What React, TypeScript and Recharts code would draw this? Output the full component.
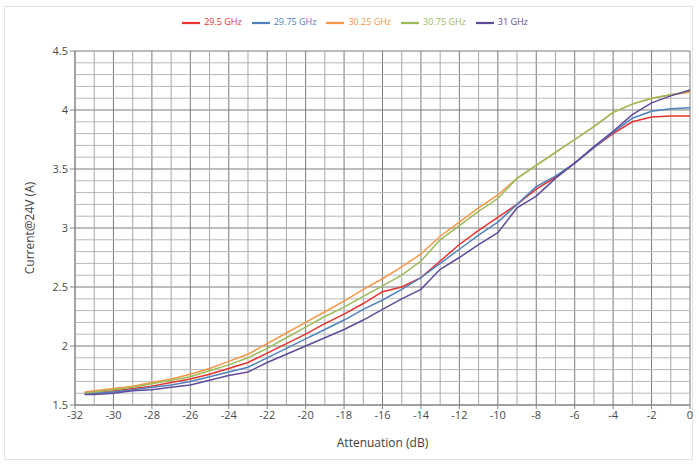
import React from 'react'
import { LineChart, Line, XAxis, YAxis, CartesianGrid, Legend, ReferenceLine } from 'recharts'

// attenuation in dB
const attenuation = [-31.5, -31, -30, -29, -28, -27, -26, -25, -24, -23, -22, -21, -20, -19, -18, -17, -16, -15, -14, -13, -12, -11, -10, -9, -8, -7, -6, -5, -4, -3, -2, -1, 0]

const ghz295 = [1.6, 1.61, 1.62, 1.64, 1.66, 1.69, 1.72, 1.76, 1.81, 1.86, 1.94, 2.02, 2.1, 2.19, 2.27, 2.36, 2.46, 2.5, 2.58, 2.72, 2.86, 2.98, 3.09, 3.2, 3.33, 3.43, 3.55, 3.68, 3.8, 3.9, 3.94, 3.95, 3.95]
const ghz2975 = [1.59, 1.6, 1.61, 1.63, 1.65, 1.67, 1.7, 1.74, 1.78, 1.82, 1.9, 1.98, 2.06, 2.14, 2.22, 2.31, 2.39, 2.48, 2.58, 2.7, 2.82, 2.94, 3.05, 3.2, 3.35, 3.44, 3.55, 3.68, 3.81, 3.93, 3.99, 4.01, 4.02]
const ghz3025 = [1.61, 1.62, 1.64, 1.66, 1.69, 1.72, 1.76, 1.81, 1.87, 1.93, 2.02, 2.11, 2.2, 2.29, 2.38, 2.48, 2.57, 2.67, 2.78, 2.93, 3.05, 3.17, 3.28, 3.42, 3.53, 3.64, 3.75, 3.86, 3.98, 4.05, 4.1, 4.13, 4.15]
const ghz3075 = [1.6, 1.61, 1.63, 1.65, 1.68, 1.71, 1.74, 1.79, 1.84, 1.9, 1.98, 2.07, 2.16, 2.25, 2.33, 2.42, 2.51, 2.6, 2.72, 2.9, 3.02, 3.14, 3.25, 3.42, 3.53, 3.64, 3.75, 3.86, 3.98, 4.05, 4.1, 4.13, 4.16]
const ghz31 = [1.59, 1.59, 1.6, 1.62, 1.63, 1.65, 1.67, 1.71, 1.75, 1.78, 1.86, 1.93, 2.0, 2.07, 2.14, 2.22, 2.31, 2.4, 2.48, 2.65, 2.75, 2.86, 2.96, 3.17, 3.27, 3.42, 3.55, 3.69, 3.82, 3.96, 4.06, 4.12, 4.17]

const xTicks = [-32, -30, -28, -26, -24, -22, -20, -18, -16, -14, -12, -10, -8, -6, -4, -2, 0]
const xMinor = [-31, -29, -27, -25, -23, -21, -19, -17, -15, -13, -11, -9, -7, -5, -3, -1]
const yTicks = [1.5, 2, 2.5, 3, 3.5, 4, 4.5]
const yMinor = [1.6, 1.7, 1.8, 1.9, 2.1, 2.2, 2.3, 2.4, 2.6, 2.7, 2.8, 2.9, 3.1, 3.2, 3.3, 3.4, 3.6, 3.7, 3.8, 3.9, 4.1, 4.2, 4.3, 4.4]

const series = [
  { key: 'f295', name: '29.5 GHz', values: ghz295, color: '#e8322e' },
  { key: 'f2975', name: '29.75 GHz', values: ghz2975, color: '#4f81bd' },
  { key: 'f3025', name: '30.25 GHz', values: ghz3025, color: '#f79646' },
  { key: 'f3075', name: '30.75 GHz', values: ghz3075, color: '#9bbb59' },
  { key: 'f31', name: '31 GHz', values: ghz31, color: '#604a9b' },
]

const data = attenuation.map((x, i) => {
  const row: Record<string, number> = { x }
  series.forEach(s => { row[s.key] = s.values[i] })
  return row
})

if (typeof document !== 'undefined') document.body.style.margin = '0'

const tickStyle = { fontSize: 11, fill: '#4a4a4a', fontFamily: 'Open Sans, sans-serif' }

export default function App() {
  return (
    <div style={{ width: 699, height: 464, position: 'relative', background: '#fff', fontFamily: 'Open Sans, sans-serif' }}>
      <div style={{ position: 'absolute', left: 4, top: 6, width: 689, height: 454, border: '1px solid #e3e3e3', boxSizing: 'border-box' }} />
      <LineChart width={699} height={464} data={data} margin={{ top: 33, right: 9, bottom: 29, left: 30 }}>
        {yMinor.map(v => <ReferenceLine key={'y' + v} y={v} stroke="#b8b8b8" strokeWidth={1} />)}
        {xMinor.map(v => <ReferenceLine key={'x' + v} x={v} stroke="#a8a8a8" strokeWidth={1} />)}
        <CartesianGrid stroke="#7a7a7a" strokeWidth={1} />
        <XAxis
          dataKey="x"
          type="number"
          domain={[-32, 0]}
          ticks={xTicks}
          height={30}
          tick={tickStyle}
          tickSize={4}
          tickLine={{ stroke: '#868686' }}
          axisLine={{ stroke: '#868686' }}
          interval={0}
          label={{ value: 'Attenuation (dB)', position: 'insideBottom', offset: -12, style: { fontSize: 12, fill: '#404040' } }}
        />
        <YAxis
          type="number"
          domain={[1.5, 4.5]}
          ticks={yTicks}
          width={45}
          tick={tickStyle}
          tickSize={5}
          tickLine={{ stroke: '#868686' }}
          axisLine={{ stroke: '#868686' }}
          interval={0}
          label={{ value: 'Current@24V (A)', angle: -90, position: 'insideLeft', offset: 0, style: { textAnchor: 'middle', fontSize: 12, fill: '#404040' } }}
        />
        <Legend
          verticalAlign="top"
          align="center"
          iconType="plainline"
          iconSize={18}
          wrapperStyle={{ top: 14, fontSize: 9, color: '#404040' }}
        />
        {series.map(s => (
          <Line
            key={s.key}
            dataKey={s.key}
            name={s.name}
            type="linear"
            stroke={s.color}
            strokeWidth={1.5}
            dot={false}
            isAnimationActive={false}
          />
        ))}
      </LineChart>
    </div>
  )
}
